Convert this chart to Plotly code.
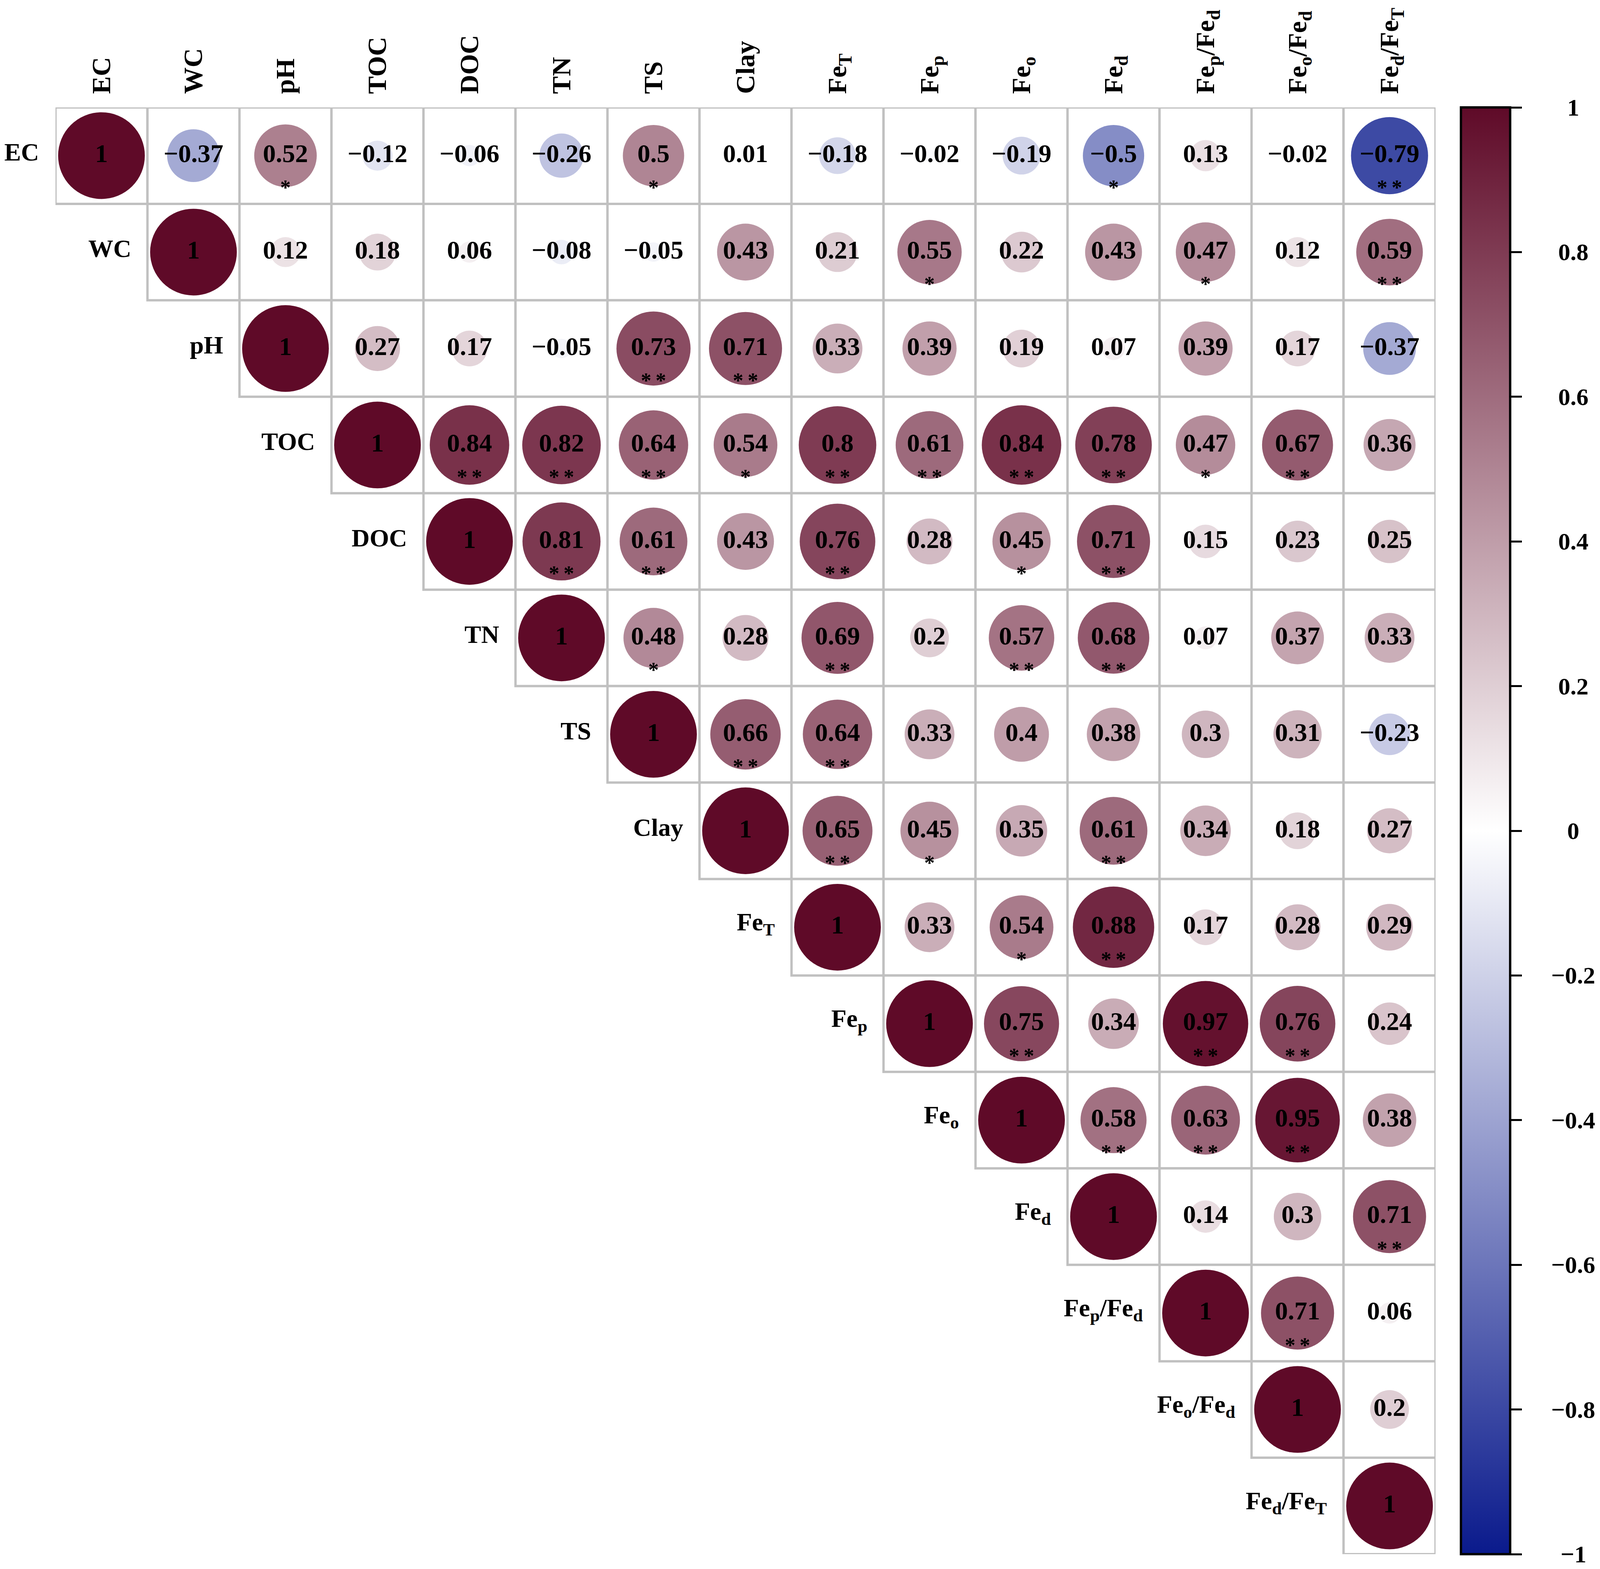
import plotly.graph_objects as go

labels = ["EC", "WC", "pH", "TOC", "DOC", "TN", "TS", "Clay",
          "Fe<sub>T</sub>", "Fe<sub>p</sub>", "Fe<sub>o</sub>", "Fe<sub>d</sub>",
          "Fe<sub>p</sub>/Fe<sub>d</sub>", "Fe<sub>o</sub>/Fe<sub>d</sub>", "Fe<sub>d</sub>/Fe<sub>T</sub>"]

# upper triangle, one list per row, starting at the diagonal
r_ec = [1, -0.37, 0.52, -0.12, -0.06, -0.26, 0.5, 0.01, -0.18, -0.02, -0.19, -0.5, 0.13, -0.02, -0.79]
r_wc = [1, 0.12, 0.18, 0.06, -0.08, -0.05, 0.43, 0.21, 0.55, 0.22, 0.43, 0.47, 0.12, 0.59]
r_ph = [1, 0.27, 0.17, -0.05, 0.73, 0.71, 0.33, 0.39, 0.19, 0.07, 0.39, 0.17, -0.37]
r_toc = [1, 0.84, 0.82, 0.64, 0.54, 0.8, 0.61, 0.84, 0.78, 0.47, 0.67, 0.36]
r_doc = [1, 0.81, 0.61, 0.43, 0.76, 0.28, 0.45, 0.71, 0.15, 0.23, 0.25]
r_tn = [1, 0.48, 0.28, 0.69, 0.2, 0.57, 0.68, 0.07, 0.37, 0.33]
r_ts = [1, 0.66, 0.64, 0.33, 0.4, 0.38, 0.3, 0.31, -0.23]
r_clay = [1, 0.65, 0.45, 0.35, 0.61, 0.34, 0.18, 0.27]
r_fet = [1, 0.33, 0.54, 0.88, 0.17, 0.28, 0.29]
r_fep = [1, 0.75, 0.34, 0.97, 0.76, 0.24]
r_feo = [1, 0.58, 0.63, 0.95, 0.38]
r_fed = [1, 0.14, 0.3, 0.71]
r_fep_fed = [1, 0.71, 0.06]
r_feo_fed = [1, 0.2]
r_fed_fet = [1]

# significance marks (* p<0.05, ** p<0.01), same shape as above
s_ec = ["", "", "*", "", "", "", "*", "", "", "", "", "*", "", "", "**"]
s_wc = ["", "", "", "", "", "", "", "", "*", "", "", "*", "", "**"]
s_ph = ["", "", "", "", "**", "**", "", "", "", "", "", "", ""]
s_toc = ["", "**", "**", "**", "*", "**", "**", "**", "**", "*", "**", ""]
s_doc = ["", "**", "**", "", "**", "", "*", "**", "", "", ""]
s_tn = ["", "*", "", "**", "", "**", "**", "", "", ""]
s_ts = ["", "**", "**", "", "", "", "", "", ""]
s_clay = ["", "**", "*", "", "**", "", "", ""]
s_fet = ["", "", "*", "**", "", "", ""]
s_fep = ["", "**", "", "**", "**", ""]
s_feo = ["", "**", "**", "**", ""]
s_fed = ["", "", "", "**"]
s_fep_fed = ["", "**", ""]
s_feo_fed = ["", ""]
s_fed_fet = [""]

cbar_ticks = [1, 0.8, 0.6, 0.4, 0.2, 0, -0.2, -0.4, -0.6, -0.8, -1]

corr_rows = [r_ec, r_wc, r_ph, r_toc, r_doc, r_tn, r_ts, r_clay,
             r_fet, r_fep, r_feo, r_fed, r_fep_fed, r_feo_fed, r_fed_fet]
sig_rows = [s_ec, s_wc, s_ph, s_toc, s_doc, s_tn, s_ts, s_clay,
            s_fet, s_fep, s_feo, s_fed, s_fep_fed, s_feo_fed, s_fed_fet]

FONT = "Liberation Serif"
MAX_D = 222  # px diameter of a |r| = 1 circle
GRID = "#c0c0c0"
CSCALE = [[0, "#0a1a8c"], [0.5, "#ffffff"], [1, "#5f0a28"]]


def fmt(v):
    return f"{v:g}".replace("-", "\u2212")


xs, ys, vals, txt, sizes = [], [], [], [], []
sx, sy, st = [], [], []
for i, (row, sig) in enumerate(zip(corr_rows, sig_rows)):
    for k, v in enumerate(row):
        j = i + k
        xs.append(j)
        ys.append(i)
        vals.append(v)
        txt.append(fmt(v))
        sizes.append(MAX_D * abs(v) ** 0.5)
        if sig[k]:
            sx.append(j)
            sy.append(i + 0.35)
            st.append("\u2009".join(sig[k]))

fig = go.Figure()

# cell borders (upper triangle incl. diagonal)
n = len(labels)
for i in range(n):
    for j in range(i, n):
        fig.add_shape(type="rect", x0=j - 0.5, x1=j + 0.5, y0=i - 0.5, y1=i + 0.5,
                      line=dict(color=GRID, width=6), fillcolor="white", layer="below")

fig.add_trace(go.Scatter(
    x=xs, y=ys, mode="markers", hoverinfo="skip", showlegend=False,
    marker=dict(size=sizes, color=vals, colorscale=CSCALE, cmin=-1, cmax=1,
                line=dict(width=0), opacity=1,
                colorbar=dict(x=1.0184, xanchor="left", xpad=0, y=0.5, yanchor="middle",
                              ypad=0, len=1, thickness=126, outlinewidth=6, outlinecolor="black",
                              ticks="outside", ticklen=27, tickwidth=5, tickcolor="black",
                              tickvals=cbar_ticks, showticklabels=False))))

fig.add_trace(go.Scatter(
    x=xs, y=ys, mode="text", text=txt, hoverinfo="skip", showlegend=False,
    textfont=dict(family=FONT, size=66, color="black", weight="bold")))

fig.add_trace(go.Scatter(
    x=sx, y=sy, mode="text", text=st, hoverinfo="skip", showlegend=False,
    textfont=dict(family=FONT, size=54, color="black", weight="bold")))

# row labels sit just left of each diagonal cell
for i, lab in enumerate(labels):
    fig.add_annotation(x=i - 0.5, y=i, xref="x", yref="y", text=lab, showarrow=False,
                       xanchor="right", yanchor="middle", xshift=-40, yshift=9,
                       font=dict(family=FONT, size=64, color="black", weight="bold"))

# colorbar labels, centred to the right of the ticks
for v in cbar_ticks:
    fig.add_annotation(x=1.0999, y=(v + 1) / 2, xref="paper", yref="paper", text=fmt(v),
                       showarrow=False, xanchor="center", yanchor="middle",
                       font=dict(family=FONT, size=62, color="black", weight="bold"))

fig.update_xaxes(range=[-0.5, n - 0.5], side="top", tickmode="array",
                 tickvals=list(range(n)), ticktext=labels, tickangle=-90,
                 ticks="outside", ticklen=20, tickcolor="rgba(0,0,0,0)",
                 tickfont=dict(family=FONT, size=68, color="black", weight="bold"),
                 showgrid=False, zeroline=False, showline=False)
fig.update_yaxes(range=[n - 0.5, -0.5], visible=False,
                 showgrid=False, zeroline=False)

fig.update_layout(width=4092, height=4012,
                  margin=dict(l=134, r=425, t=251, b=41),
                  paper_bgcolor="white", plot_bgcolor="white")

fig.write_html("out.html")
